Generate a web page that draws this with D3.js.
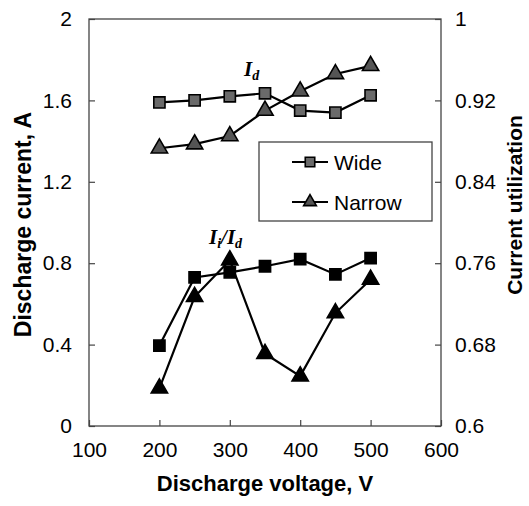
<!DOCTYPE html>
<html><head><meta charset="utf-8">
<script src="https://cdn.jsdelivr.net/npm/d3@7"></script>
<style>body{margin:0;background:#fff}svg{display:block}</style>
</head><body>
<script>
const voltages = [200, 250, 300, 350, 400, 450, 500];
const wideCurrent = [1.59, 1.60, 1.62, 1.635, 1.55, 1.54, 1.625];
const narrowCurrent = [1.365, 1.385, 1.425, 1.55, 1.645, 1.73, 1.77];
const wideUtil = [0.679, 0.746, 0.751, 0.757, 0.764, 0.749, 0.765];
const narrowUtil = [0.637, 0.727, 0.763, 0.671, 0.649, 0.711, 0.744];
const xTicks = [100, 200, 300, 400, 500, 600];
const yLeftTicks = [0, 0.4, 0.8, 1.2, 1.6, 2];
const yRightTicks = [0.6, 0.68, 0.76, 0.84, 0.92, 1];

const W = 529, H = 506;
const m = {l: 89, r: 441, t: 19, b: 426};
const svg = d3.select("body").append("svg").attr("width", W).attr("height", H);
const x = d3.scaleLinear().domain([100, 600]).range([m.l, m.r]);
const yL = d3.scaleLinear().domain([0, 2]).range([m.b, m.t]);
const yR = d3.scaleLinear().domain([0.6, 1]).range([m.b, m.t]);

const font = "'Liberation Sans', Arial, sans-serif";
const axisCol = "#444";

// frame
svg.append("rect").attr("x", m.l).attr("y", m.t).attr("width", m.r - m.l).attr("height", m.b - m.t)
  .attr("fill", "none").attr("stroke", axisCol).attr("stroke-width", 1.3);

function styleAxis(g) {
  g.select(".domain").remove();
  g.selectAll(".tick line").attr("stroke", axisCol).attr("stroke-width", 1.2);
  g.selectAll(".tick text").attr("font-family", font).attr("font-size", 21).attr("fill", "#000");
}
svg.append("g").attr("transform", `translate(0,${m.b})`)
  .call(d3.axisBottom(x).tickValues(xTicks).tickSize(-6).tickPadding(16).tickFormat(d3.format("d")))
  .call(styleAxis);
svg.append("g").attr("transform", `translate(${m.l},0)`)
  .call(d3.axisLeft(yL).tickValues(yLeftTicks).tickSize(-6).tickPadding(17).tickFormat(d => String(d)))
  .call(styleAxis);
svg.append("g").attr("transform", `translate(${m.r},0)`)
  .call(d3.axisRight(yR).tickValues(yRightTicks).tickSize(-6).tickPadding(14).tickFormat(d => String(d)))
  .call(styleAxis);

// axis titles
svg.append("text").attr("x", (m.l + m.r) / 2).attr("y", 491).attr("text-anchor", "middle")
  .attr("font-family", font).attr("font-weight", "bold").attr("font-size", 22).text("Discharge voltage, V");
svg.append("text").attr("transform", `translate(31,${(m.t + m.b) / 2 + 2}) rotate(-90)`).attr("text-anchor", "middle")
  .attr("font-family", font).attr("font-weight", "bold").attr("font-size", 23).text("Discharge current, A");
svg.append("text").attr("transform", `translate(522,205) rotate(-90)`).attr("text-anchor", "middle")
  .attr("font-family", font).attr("font-weight", "bold").attr("font-size", 21).text("Current utilization");

const sq = d3.symbol().type(d3.symbolSquare).size(125);
const tri = d3.symbol().type(d3.symbolTriangle).size(115);

function series(vals, yScale, sym, fill) {
  const pts = voltages.map((v, i) => [x(v), yScale(vals[i])]);
  svg.append("path").attr("d", d3.line()(pts)).attr("fill", "none").attr("stroke", "#000").attr("stroke-width", 2.2);
  svg.append("g").selectAll("path").data(pts).join("path")
    .attr("transform", d => `translate(${d[0]},${d[1]})`).attr("d", sym)
    .attr("fill", fill).attr("stroke", "#000").attr("stroke-width", 1.6);
}
series(wideCurrent, yL, sq, "#6a6a6a");
series(narrowCurrent, yL, tri, "#555");
series(wideUtil, yR, sq, "#000");
series(narrowUtil, yR, tri, "#000");

// annotations
const serif = "'Liberation Serif', 'Times New Roman', serif";
const a1 = svg.append("text").attr("x", 244).attr("y", 76).attr("font-family", serif)
  .attr("font-weight", "bold").attr("font-style", "italic").attr("font-size", 21);
a1.append("tspan").text("I");
a1.append("tspan").attr("font-size", 14).attr("dy", 4).text("d");
const a2 = svg.append("text").attr("x", 209).attr("y", 244).attr("font-family", serif)
  .attr("font-weight", "bold").attr("font-style", "italic").attr("font-size", 21);
a2.append("tspan").text("I");
a2.append("tspan").attr("font-size", 14).attr("dy", 4).text("i");
a2.append("tspan").attr("dy", -4).text("/I");
a2.append("tspan").attr("font-size", 14).attr("dy", 4).text("d");

// legend
const lg = svg.append("g");
lg.append("rect").attr("x", 259).attr("y", 142).attr("width", 173).attr("height", 79)
  .attr("fill", "#fff").attr("stroke", axisCol).attr("stroke-width", 1.3);
const legendItems = [{name: "Wide", fill: "#6a6a6a", y: 162}, {name: "Narrow", fill: "#555", y: 202}];
const legSq = d3.symbol().type(d3.symbolSquare).size(90);
const legTri = d3.symbol().type(d3.symbolTriangle).size(70);
legendItems.forEach((d, i) => {
  lg.append("line").attr("x1", 292).attr("x2", 328).attr("y1", d.y).attr("y2", d.y).attr("stroke", "#000").attr("stroke-width", 2.2);
  lg.append("path").attr("transform", `translate(310,${d.y})`).attr("d", i === 0 ? legSq : legTri).attr("fill", d.fill).attr("stroke", "#000").attr("stroke-width", 1.6);
  lg.append("text").attr("x", 334).attr("y", d.y).attr("dy", "0.36em").attr("font-family", font).attr("font-size", 21).text(d.name);
});
</script>
</body></html>
